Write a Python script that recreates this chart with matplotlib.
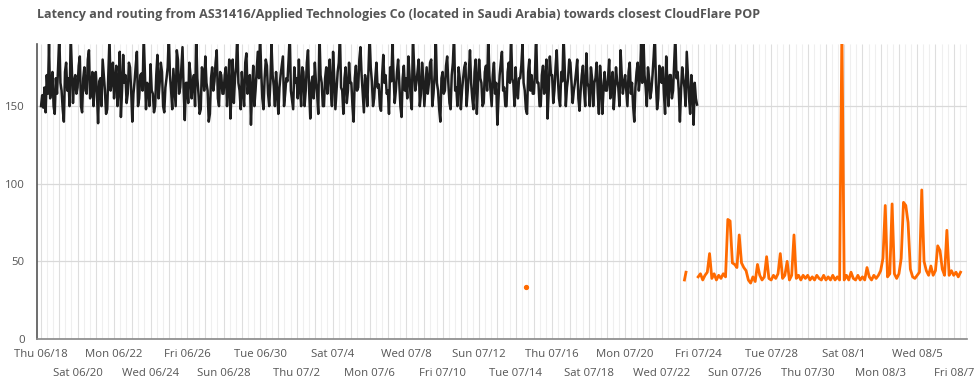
import datetime as dt
import matplotlib
matplotlib.use("Agg")
import matplotlib.pyplot as plt
import matplotlib.dates as mdates

# ---------------- data ----------------
title = ("Latency and routing from AS31416/Applied Technologies Co "
         "(located in Saudi Arabia) towards closest CloudFlare POP")

black_start = dt.datetime(2015, 6, 18, 0, 0)
black_step_min = 90
black_values = [
    150, 157, 149, 162, 146, 170, 158, 190, 155, 164, 172, 150, 145, 168, 158, 176,
    196, 165, 160, 148, 140, 172, 178, 160, 168, 150, 196, 175, 152, 166, 170, 158,
    162, 176, 182, 150, 146, 168, 175, 160, 158, 180, 186, 155, 160, 172, 150, 164,
    172, 158, 139, 166, 168, 150, 180, 170, 160, 145, 148, 172, 194, 160, 166, 178,
    155, 168, 176, 150, 162, 185, 143, 160, 183, 165, 170, 152, 158, 178, 175, 160,
    140, 158, 166, 176, 185, 150, 155, 170, 171, 160, 196, 172, 148, 165, 163, 150,
    177, 160, 158, 146, 150, 170, 183, 155, 165, 178, 172, 150, 146, 162, 168, 175,
    196, 170, 160, 148, 174, 162, 150, 186, 180, 158, 162, 175, 188, 160, 141, 165,
    165, 152, 178, 170, 155, 166, 170, 150, 196, 168, 158, 145, 148, 175, 172, 160,
    182, 165, 160, 140, 145, 168, 175, 160, 166, 178, 186, 155, 150, 172, 170, 158,
    158, 170, 175, 150, 163, 180, 142, 160, 180, 152, 168, 175, 196, 165, 160, 148,
    172, 160, 150, 178, 184, 158, 165, 170, 138, 160, 176, 150, 160, 172, 185, 168,
    196, 172, 155, 148, 168, 180, 176, 158, 150, 165, 190, 170, 163, 150, 172, 160,
    145, 162, 170, 176, 182, 150, 158, 168, 166, 180, 196, 160, 154, 148, 175, 165,
    168, 155, 180, 162, 150, 175, 172, 150, 160, 178, 186, 160, 142, 165, 169, 155,
    178, 165, 158, 145, 196, 170, 165, 150, 150, 168, 175, 158, 170, 180, 160, 150,
    185, 168, 148, 160, 172, 178, 196, 162, 160, 145, 168, 175, 152, 160, 178, 165,
    165, 150, 140, 168, 176, 160, 162, 180, 188, 170, 158, 146, 170, 165, 150, 172,
    196, 175, 166, 150, 155, 168, 178, 162, 164, 150, 147, 170, 183, 165, 170, 158,
    160, 145, 175, 166, 190, 170, 152, 160, 172, 180, 165, 150, 143, 168, 176, 160,
    168, 155, 182, 170, 155, 148, 196, 175, 160, 165, 172, 180, 150, 158, 178, 168,
    150, 162, 175, 158, 165, 178, 180, 150, 158, 170, 194, 165, 160, 148, 140, 168,
    172, 158, 160, 176, 182, 165, 152, 148, 170, 178, 196, 160, 162, 150, 175, 168,
    148, 160, 168, 175, 178, 150, 160, 172, 186, 165, 155, 148, 172, 180, 145, 165,
    180, 168, 165, 150, 152, 172, 176, 160, 196, 170, 160, 150, 170, 178, 158, 165,
    138, 155, 170, 178, 185, 160, 162, 150, 150, 172, 178, 165, 196, 168, 165, 150,
    175, 160, 155, 168, 168, 176, 190, 165, 160, 148, 145, 172, 180, 160, 170, 158,
    158, 172, 196, 165, 165, 150, 150, 170, 176, 158, 168, 180, 142, 160, 182, 170,
    170, 152, 160, 175, 186, 168, 155, 150, 172, 166, 196, 175, 150, 162, 168, 180,
    178, 165, 152, 160, 165, 172, 180, 155, 147, 160, 170, 176, 160, 150, 184, 165,
    162, 150, 175, 168, 150, 165, 168, 178, 158, 145, 176, 165, 145, 160, 172, 160,
    160, 168, 180, 155, 165, 172, 148, 160, 175, 166, 162, 150, 186, 170, 158, 165,
    170, 160, 150, 172, 178, 158, 165, 150, 140, 162, 172, 178, 160, 168, 190, 165,
    196, 170, 162, 150, 175, 168, 155, 160, 170, 182, 196, 165, 148, 155, 176, 168,
    165, 175, 158, 145, 182, 165, 150, 170, 170, 155, 160, 178, 196, 168, 172, 160,
    140, 160, 175, 168, 162, 150, 185, 170, 155, 145, 170, 162, 138, 165, 155, 151,
]

orange_dot_time = [dt.datetime(2015, 7, 14, 14, 0)]
orange_dot_value = [33.5]

orange_seg_times = [dt.datetime(2015, 7, 23, 6, 0), dt.datetime(2015, 7, 23, 8, 0)]
orange_seg_values = [38, 43]

orange_start = dt.datetime(2015, 7, 24, 0, 0)
orange_step_h = 3
orange_values = [
    40, 42, 38, 41, 43, 55, 39, 42,
    38, 41, 39, 42, 40, 77, 76, 49,
    48, 46, 67, 49, 46, 44, 38, 36,
    40, 37, 48, 41, 38, 40, 53, 39,
    38, 41, 39, 42, 55, 39, 41, 50,
    38, 41, 67, 39, 41, 38, 41, 39,
    41, 38, 40, 38, 41, 39, 38, 41,
    38, 40, 38, 41, 38, 40, 38, 200,
    38, 41, 38, 43, 39, 38, 41, 38,
    40, 38, 46, 40, 38, 41, 39, 41,
    44, 52, 86, 40, 42, 87, 42, 39,
    42, 52, 88, 86, 75, 45, 40, 39,
    41, 43, 96, 50, 44, 41, 47, 41,
    44, 60, 57, 45, 41, 70, 41, 44,
    41, 43, 40, 43,
]

y_ticks = [0, 50, 100, 150]
top_row_dates = ["2015-06-18", "2015-06-22", "2015-06-26", "2015-06-30", "2015-07-04",
                 "2015-07-08", "2015-07-12", "2015-07-16", "2015-07-20", "2015-07-24",
                 "2015-07-28", "2015-08-01", "2015-08-05"]
top_row_labels = ["Thu 06/18", "Mon 06/22", "Fri 06/26", "Tue 06/30", "Sat 07/4",
                  "Wed 07/8", "Sun 07/12", "Thu 07/16", "Mon 07/20", "Fri 07/24",
                  "Tue 07/28", "Sat 08/1", "Wed 08/5"]
bottom_row_dates = ["2015-06-20", "2015-06-24", "2015-06-28", "2015-07-02", "2015-07-06",
                    "2015-07-10", "2015-07-14", "2015-07-18", "2015-07-22", "2015-07-26",
                    "2015-07-30", "2015-08-03", "2015-08-07"]
bottom_row_labels = ["Sat 06/20", "Wed 06/24", "Sun 06/28", "Thu 07/2", "Mon 07/6",
                     "Fri 07/10", "Tue 07/14", "Sat 07/18", "Wed 07/22", "Sun 07/26",
                     "Thu 07/30", "Mon 08/3", "Fri 08/7"]

x_start = dt.datetime(2015, 6, 17, 18, 45)
x_end = dt.datetime(2015, 8, 7, 17, 45)
y_max = 190

# ---------------- plot ----------------
plt.rcParams['font.family'] = ['Open Sans', 'DejaVu Sans']
fig = plt.figure(figsize=(9.75, 3.83), dpi=100)
ax = fig.add_axes([0.038, 0.115, 0.954, 0.77])

black_times = [black_start + dt.timedelta(minutes=black_step_min * i) for i in range(len(black_values))]
orange_times = [orange_start + dt.timedelta(hours=orange_step_h * i) for i in range(len(orange_values))]

# vertical grid: 8-hour lines, day lines a bit darker
t = x_start.replace(hour=0, minute=0)
minor_lines, day_lines = [], []
while t <= x_end:
    if t >= x_start:
        (day_lines if t.hour == 0 else minor_lines).append(mdates.date2num(t))
    t += dt.timedelta(hours=8)
ax.vlines(minor_lines, 0, 1, transform=ax.get_xaxis_transform(), color="#efefef", lw=0.8, zorder=0)
ax.vlines(day_lines, 0, 1, transform=ax.get_xaxis_transform(), color="#dedede", lw=0.8, zorder=0)
for yv in y_ticks[1:]:
    ax.axhline(yv, color="#d9d9d9", lw=0.9, zorder=0.5)

ax.plot(black_times, black_values, color="#1e1e1e", lw=1.8, zorder=3)
ax.plot(orange_times, orange_values, color="#ff6a00", lw=2.0, zorder=3)
ax.plot(orange_seg_times, orange_seg_values, color="#ff6a00", lw=2.0, zorder=3)
ax.plot(orange_dot_time, orange_dot_value, 'o', color="#ff6a00", ms=2.8, zorder=3)

ax.set_xlim(x_start, x_end)
ax.set_ylim(0, y_max)
ax.set_yticks(y_ticks)
ax.set_yticklabels([str(v) for v in y_ticks])

ax.set_xticks([mdates.date2num(dt.datetime.fromisoformat(d)) for d in top_row_dates])
ax.set_xticklabels(top_row_labels)
ax.set_xticks([mdates.date2num(dt.datetime.fromisoformat(d)) for d in bottom_row_dates], minor=True)
ax.set_xticklabels(bottom_row_labels, minor=True)

ax.tick_params(axis='x', which='major', length=0, pad=7, labelsize=8.2, labelcolor="#555555")
ax.tick_params(axis='x', which='minor', length=0, pad=21, labelsize=8.2, labelcolor="#555555")
ax.tick_params(axis='y', length=0, pad=9, labelsize=8.2, labelcolor="#555555")

for s in ("top", "right"):
    ax.spines[s].set_visible(False)
ax.spines["left"].set_color("#555555")
ax.spines["left"].set_linewidth(1.2)
ax.spines["bottom"].set_color("#888888")
ax.spines["bottom"].set_linewidth(1.2)

fig.text(0.038, 0.961, title, fontsize=9, fontweight="bold", color="#555555",
         ha="left", va="center")

fig.savefig("out.png", dpi=100)
